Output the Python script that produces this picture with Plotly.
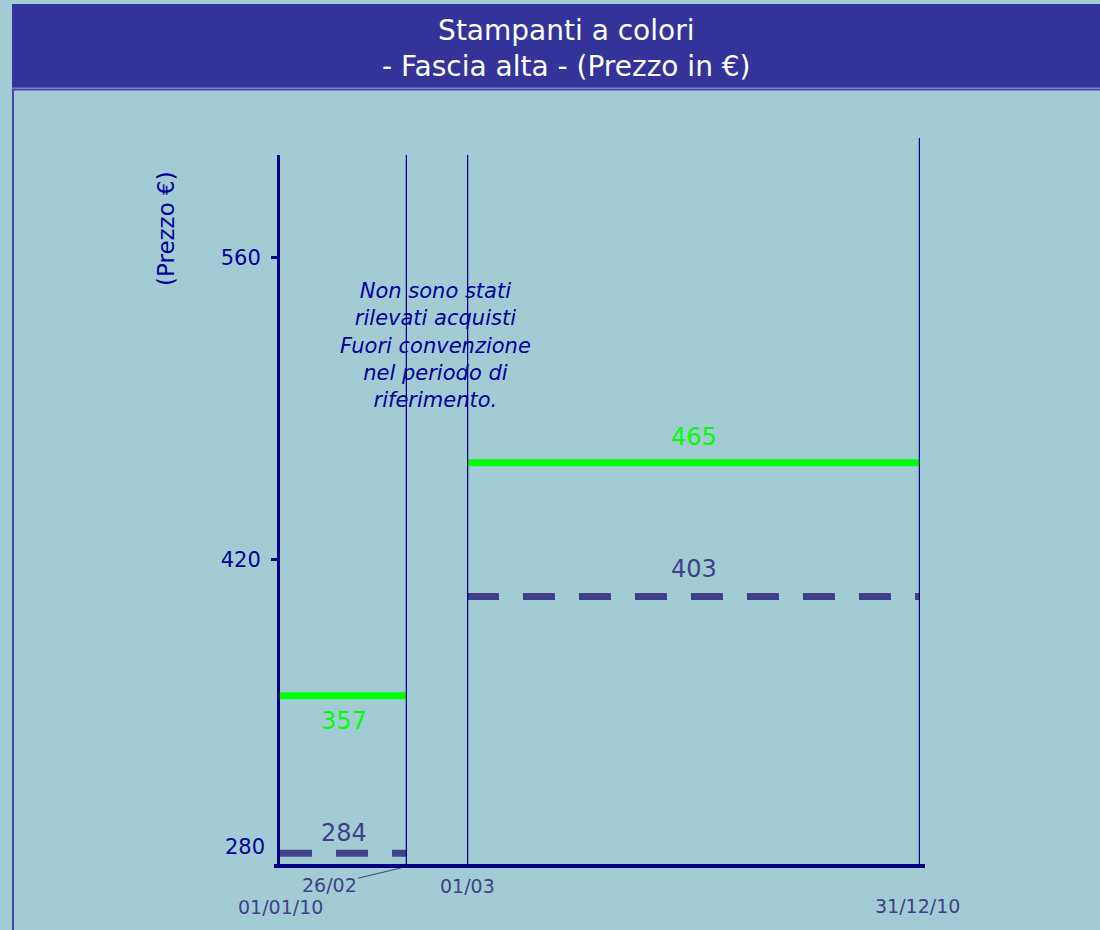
import plotly.graph_objects as go
import pandas as pd

# ---------------- data ----------------
periodi_inizio = ["2010-01-01", "2010-03-01"]
periodi_fine = ["2010-02-26", "2010-12-31"]
prezzi_verde = [357, 465]
prezzi_tratteggio = [284, 403]
etichette_date = ["01/01/10", "26/02", "01/03", "31/12/10"]
tick_valori = [280, 420, 560]
tick_etichette = ["280", "420", "560"]
nota = "Non sono stati<br>rilevati acquisti<br>Fuori convenzione<br>nel periodo di<br>riferimento."
titolo = "Stampanti a colori<br>- Fascia alta - (Prezzo in €)"
titolo_y = "(Prezzo €)"

# ---------------- layout helpers ----------------
W, H = 1100, 930
L, R, T, B = 280, 175, 155, 64
PW, PH = W - L - R, H - T - B


def px(x):
    return (x - L) / PW


def py(y):
    return (H - B - y) / PH


BG = "#A2CCD3"
NAVY = "#000080"
TXT = "#000099"
GREY = "#414189"
GREEN = "#00FF00"
FONT = "DejaVu Sans"

axes = ["x", "x2"]
fig = go.Figure()

for i in range(2):
    fig.add_trace(go.Scatter(
        x=[periodi_inizio[i], periodi_fine[i]], y=[prezzi_tratteggio[i]] * 2,
        mode="lines", xaxis=axes[i], yaxis="y",
        line=dict(color=GREY, width=7, dash="32px,24px"),
        showlegend=False, hoverinfo="skip"))
    fig.add_trace(go.Scatter(
        x=[periodi_inizio[i], periodi_fine[i]], y=[prezzi_verde[i]] * 2,
        mode="lines", xaxis=axes[i], yaxis="y",
        line=dict(color=GREEN, width=7),
        showlegend=False, hoverinfo="skip"))

shapes = []
# title bar
shapes.append(dict(type="rect", xref="paper", yref="paper",
                   x0=px(12), x1=px(1110), y0=py(88), y1=py(4),
                   fillcolor="#333399", line=dict(width=0), layer="below"))
# frame
shapes.append(dict(type="rect", xref="paper", yref="paper",
                   x0=px(13), x1=px(1120), y0=py(945), y1=py(89.5),
                   fillcolor="rgba(0,0,0,0)", line=dict(color="#4646A6", width=2), layer="below"))
shapes.append(dict(type="line", xref="paper", yref="paper",
                   x0=px(12), x1=px(1110), y0=py(88), y1=py(88),
                   line=dict(color="#7A7ACC", width=1)))
# x axis baseline
shapes.append(dict(type="line", xref="paper", yref="paper",
                   x0=px(274), x1=px(925), y0=0, y1=0,
                   line=dict(color=NAVY, width=4)))
# period boundaries
shapes.append(dict(type="line", xref="x", yref="paper",
                   x0=periodi_fine[0], x1=periodi_fine[0], y0=0, y1=1,
                   line=dict(color=NAVY, width=2.5)))
shapes.append(dict(type="line", xref="x2", yref="paper",
                   x0=periodi_inizio[1], x1=periodi_inizio[1], y0=0, y1=1,
                   line=dict(color=NAVY, width=2.5)))
shapes.append(dict(type="line", xref="x2", yref="paper",
                   x0=periodi_fine[1], x1=periodi_fine[1], y0=0, y1=py(138),
                   line=dict(color=NAVY, width=2.5)))

annotations = []
# title
annotations.append(dict(text=titolo, xref="paper", yref="paper",
                        x=px(566), y=py(49), xanchor="center", yanchor="middle",
                        showarrow=False, align="center",
                        font=dict(family=FONT, size=28, color="white")))
# y axis title
annotations.append(dict(text=titolo_y, xref="paper", yref="paper",
                        x=px(166), y=py(229), textangle=-90, showarrow=False,
                        xanchor="center", yanchor="middle",
                        font=dict(family=FONT, size=23, color=TXT)))
# note
annotations.append(dict(text=nota, xref="paper", yref="paper",
                        x=px(435), y=py(345), showarrow=False, align="center",
                        xanchor="center", yanchor="middle",
                        font=dict(family=FONT, size=21, color=TXT, style="italic")))

# value labels
mid = [pd.Timestamp(a) + (pd.Timestamp(b) - pd.Timestamp(a)) / 2
       for a, b in zip(periodi_inizio, periodi_fine)]
offs_verde = [-25, 26]
offs_tratt = [20, 28]
for i in range(2):
    annotations.append(dict(text=str(prezzi_verde[i]), xref=axes[i], yref="y",
                            x=mid[i], y=prezzi_verde[i], yshift=offs_verde[i],
                            xanchor="center", yanchor="middle",
                            showarrow=False, font=dict(family=FONT, size=24, color=GREEN)))
    annotations.append(dict(text=str(prezzi_tratteggio[i]), xref=axes[i], yref="y",
                            x=mid[i], y=prezzi_tratteggio[i], yshift=offs_tratt[i],
                            xanchor="center", yanchor="middle",
                            showarrow=False, font=dict(family=FONT, size=24, color=GREY)))

# lowest tick label (drawn slightly above the baseline as in the source)
annotations.append(dict(text=tick_etichette[0], xref="paper", yref="y",
                        x=px(267), y=tick_valori[0], yshift=15, xanchor="right",
                        yanchor="middle",
                        showarrow=False, font=dict(family=FONT, size=21, color=TXT)))

# date labels
dfont = dict(family=FONT, size=19, color=GREY)
annotations.append(dict(text=etichette_date[0], xref="x", yref="paper",
                        x=periodi_inizio[0], y=py(907), xanchor="center", yanchor="middle",
                        showarrow=False, font=dfont))
annotations.append(dict(text=etichette_date[1], xref="x", yref="paper",
                        x=periodi_fine[0], y=py(868), xshift=-6, ax=-72, ay=17,
                        xanchor="center", yanchor="middle",
                        showarrow=True, arrowhead=0, arrowwidth=1, arrowcolor=GREY,
                        font=dfont))
annotations.append(dict(text=etichette_date[2], xref="x2", yref="paper",
                        x=periodi_inizio[1], y=py(886), xanchor="center", yanchor="middle",
                        showarrow=False, font=dfont))
annotations.append(dict(text=etichette_date[3], xref="x2", yref="paper",
                        x=periodi_fine[1], y=py(906), xshift=-3, xanchor="center",
                        yanchor="middle", showarrow=False, font=dfont))

hidden = dict(showgrid=False, zeroline=False, showline=False, showticklabels=False,
              ticks="", type="date")

fig.update_layout(
    width=W, height=H,
    margin=dict(l=L, r=R, t=T, b=B, pad=0),
    paper_bgcolor=BG, plot_bgcolor=BG,
    showlegend=False,
    xaxis=dict(domain=[0, px(407)], range=[periodi_inizio[0], periodi_fine[0]],
               anchor="y", **hidden),
    xaxis2=dict(domain=[px(467), px(920)], range=[periodi_inizio[1], periodi_fine[1]],
                anchor="y", **hidden),
    yaxis=dict(range=[278.1, 607.7], anchor="x", showgrid=False, zeroline=False,
               showline=True, linecolor=NAVY, linewidth=3,
               tickvals=tick_valori[1:], ticktext=tick_etichette[1:],
               ticks="outside", ticklen=6, tickwidth=3, tickcolor=NAVY,
               ticklabelstandoff=6,
               tickfont=dict(family=FONT, size=21, color=TXT)),
    shapes=shapes,
    annotations=annotations,
)

fig.write_html("out.html",
               config={"displayModeBar": False},
               post_script="document.body.style.margin='0';document.body.style.overflow='hidden';document.body.style.background='%s';" % BG)
